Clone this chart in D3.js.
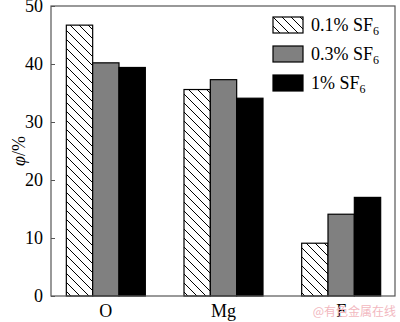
<!DOCTYPE html>
<html>
<head>
<meta charset="utf-8">
<script src="https://cdn.jsdelivr.net/npm/d3@7"></script>
<style>
  body { margin: 0; background: #fff; }
  svg { display: block; font-family: "Liberation Serif", "Times New Roman", serif; }
</style>
</head>
<body>
<svg id="chart" width="400" height="322"></svg>
<script>
const categories = ["O", "Mg", "F"];
const seriesNames = ["0.1%", "0.3%", "1%"];
const seriesValues = [
  [46.7, 35.6, 9.1],   // 0.1% SF6
  [40.2, 37.3, 14.1],  // 0.3% SF6
  [39.4, 34.1, 17.0]   // 1% SF6
];
const yTicks = [0, 10, 20, 30, 40, 50];

const svg = d3.select("#chart");
const margin = {left: 51, right: 5, top: 6, bottom: 26};
const width = 400, height = 322;

const y = d3.scaleLinear().domain([0, 50]).range([height - margin.bottom, margin.top]);
const x = d3.scaleBand().domain(categories).range([47, 400]);
const xs = d3.scaleBand().domain(seriesNames).range([0, 79]);

// hatch pattern for the first series
const defs = svg.append("defs");
defs.append("pattern")
  .attr("id", "hatch")
  .attr("patternUnits", "userSpaceOnUse")
  .attr("width", 9).attr("height", 9)
  .append("path")
  .attr("d", "M-1,-1 L10,10 M-1,8 L1,10 M8,-1 L10,1")
  .attr("stroke", "#000")
  .attr("stroke-width", 1);

const fills = ["url(#hatch)", "#808080", "#000"];

// bars
const groups = svg.append("g")
  .selectAll("g")
  .data(seriesValues)
  .join("g")
  .attr("fill", (d, i) => fills[i]);

groups.selectAll("rect")
  .data((d, i) => d.map((v, j) => ({v, cat: categories[j], s: seriesNames[i]})))
  .join("rect")
  .attr("x", d => x(d.cat) + (x.bandwidth() - 79) / 2 + xs(d.s))
  .attr("y", d => y(d.v))
  .attr("width", xs.bandwidth())
  .attr("height", d => y(0) - y(d.v))
  .attr("stroke", "#000")
  .attr("stroke-width", 1.2);

// frame
svg.append("rect")
  .attr("x", margin.left).attr("y", margin.top)
  .attr("width", width - margin.right - margin.left)
  .attr("height", y(0) - margin.top)
  .attr("fill", "none")
  .attr("stroke", "#555")
  .attr("stroke-width", 1.2);

// y axis
const yAxis = svg.append("g")
  .attr("transform", `translate(${margin.left},0)`)
  .call(d3.axisLeft(y).tickValues(yTicks).tickSize(-4).tickPadding(8));
yAxis.select(".domain").remove();
yAxis.selectAll("line").attr("stroke", "#555");
yAxis.selectAll("text")
  .attr("font-size", 18)
  .attr("font-family", "Liberation Serif, serif")
  .attr("fill", "#000");

// x labels
svg.append("g")
  .selectAll("text")
  .data(categories)
  .join("text")
  .attr("x", d => x(d) + x.bandwidth() / 2)
  .attr("y", 317)
  .attr("text-anchor", "middle")
  .attr("font-size", 18)
  .text(d => d);

// y title
svg.append("text")
  .attr("transform", "translate(25,151) rotate(-90)")
  .attr("text-anchor", "middle")
  .attr("font-size", 18)
  .call(t => {
    t.append("tspan").attr("font-style", "italic").text("φ");
    t.append("tspan").text("/%");
  });

// legend
const legend = svg.append("g")
  .selectAll("g")
  .data(seriesNames)
  .join("g")
  .attr("transform", (d, i) => `translate(273,${17 + i * 29})`);

legend.append("rect")
  .attr("width", 30).attr("height", 16)
  .attr("fill", (d, i) => fills[i])
  .attr("stroke", "#000")
  .attr("stroke-width", 1.2);

legend.append("text")
  .attr("x", 38).attr("y", 14)
  .attr("font-size", 18)
  .call(t => {
    t.append("tspan").text(d => d + " SF");
    t.append("tspan").attr("font-size", 12).attr("dy", 4).text("6");
  });

// watermark
svg.append("text")
  .attr("x", 396).attr("y", 316)
  .attr("text-anchor", "end")
  .attr("font-size", 12)
  .attr("font-family", "Noto Sans CJK SC, sans-serif")
  .attr("fill", "#f2b8c0")
  .text("@有色金属在线");
</script>
</body>
</html>
